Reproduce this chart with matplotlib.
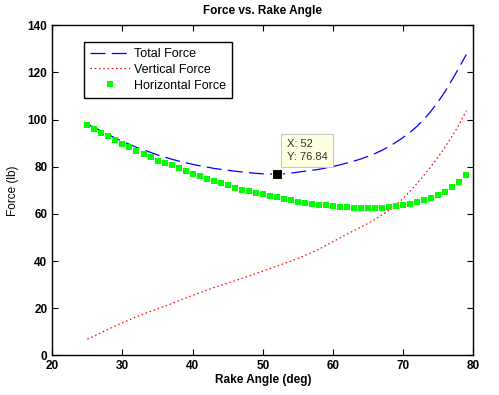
import matplotlib
matplotlib.use("Agg")
import matplotlib.pyplot as plt
import numpy as np

plt.rcParams['font.family'] = ['Liberation Sans', 'DejaVu Sans']

# Rake angle in degrees (25..79)
rake_angle = list(range(25, 80))

total_force = [98.1, 96.6, 95.1, 93.6, 92.2, 90.7, 89.5, 88.2, 87.1, 86.1,
               85.0, 84.1, 83.2, 82.4, 81.7, 81.0, 80.4, 79.9, 79.3, 78.9,
               78.5, 78.1, 77.8, 77.5, 77.2, 77.0, 76.9, 76.84, 77.0, 77.3,
               77.7, 78.1, 78.5, 78.9, 79.5, 80.1, 80.8, 81.6, 82.4, 83.3,
               84.4, 85.6, 87.0, 88.6, 90.4, 92.4, 94.6, 97.2, 100.2, 103.7,
               107.6, 112.0, 117.0, 122.2, 127.6]

vertical_force = [6.9, 8.2, 9.7, 11.1, 12.5, 13.8, 15.1, 16.4, 17.5, 18.6,
                  19.7, 20.8, 21.9, 23.1, 24.3, 25.4, 26.5, 27.6, 28.7, 29.6,
                  30.6, 31.6, 32.6, 33.6, 34.7, 35.7, 36.8, 37.8, 38.9, 40.0,
                  41.1, 42.3, 43.6, 45.0, 46.6, 48.2, 49.8, 51.4, 52.9, 54.4,
                  56.0, 57.7, 59.6, 61.6, 63.8, 66.6, 69.7, 73.0, 76.5, 80.2,
                  84.2, 88.5, 93.0, 98.0, 103.8]

horizontal_force = [97.8, 96.1, 94.4, 92.9, 91.2, 89.6, 88.4, 86.7, 85.5, 84.3,
                    82.6, 81.5, 80.6, 79.3, 78.1, 76.9, 76.1, 74.8, 73.9, 73.2,
                    72.3, 71.1, 70.3, 69.7, 69.0, 68.3, 67.6, 67.0, 66.2, 65.8,
                    65.2, 64.5, 64.1, 63.9, 63.6, 63.5, 62.9, 62.9, 62.5, 62.5,
                    62.5, 62.5, 62.5, 62.9, 63.5, 63.8, 64.2, 65.0, 65.8, 66.6,
                    67.9, 69.4, 71.5, 73.7, 76.6]

x_ticks = [20, 30, 40, 50, 60, 70, 80]
y_ticks = [0, 20, 40, 60, 80, 100, 120, 140]
tip_index = rake_angle.index(52)

fig = plt.figure(figsize=(4.99, 3.95), dpi=100)
ax = fig.add_axes([0.1048, 0.1005, 0.8437, 0.8355])

ax.plot(rake_angle, total_force, color='blue', linestyle=(0, (12, 5)), linewidth=0.9,
        label='Total Force')
ax.plot(rake_angle, vertical_force, color='red', linestyle=(0, (1.2, 2.2)), linewidth=0.9,
        label='Vertical Force')
ax.plot(rake_angle, horizontal_force, color='#00FF00', linestyle='none', marker='s',
        markersize=4.0, markeredgewidth=0, label='Horizontal Force')

# data tip
tx, ty = rake_angle[tip_index], total_force[tip_index]
ax.plot([tx], [ty], marker='s', color='black', markersize=7, markeredgecolor='#FFFFE1',
        markeredgewidth=0.8, linestyle='none', zorder=5)
ax.annotate(f"X: {tx}\nY: {ty:.2f}", xy=(tx, ty), xytext=(7, 9), textcoords='offset points',
            fontsize=8, color='#333333', va='bottom', ha='left', linespacing=1.3,
            bbox=dict(boxstyle='square,pad=0.5', fc='#FFFFE1', ec='#C8C8C8', lw=0.8))

ax.set_xlim(20, 80)
ax.set_ylim(0, 140)
ax.set_xticks(x_ticks)
ax.set_yticks(y_ticks)
ax.tick_params(direction='in', top=True, right=True, length=4, width=0.8,
               labelsize=8.5)
for lab in ax.get_xticklabels() + ax.get_yticklabels():
    lab.set_fontweight('bold')
for s in ax.spines.values():
    s.set_linewidth(1.0)

ax.set_title('Force vs. Rake Angle', fontsize=8.5, fontweight='bold', pad=8)
ax.set_xlabel('Rake Angle (deg)', fontsize=8.5, fontweight='bold', labelpad=1)
ax.set_ylabel('Force (lb)', fontsize=8.5, labelpad=6)

leg = ax.legend(loc='upper left', bbox_to_anchor=(0.075, 0.95), borderaxespad=0,
                fontsize=9, frameon=True, fancybox=False, edgecolor='black',
                framealpha=1, handlelength=3.2, handletextpad=0.3, borderpad=0.5,
                labelspacing=0.3, markerscale=1.0, numpoints=1)
leg.get_frame().set_linewidth(1.0)

fig.savefig('out.png', dpi=100)
